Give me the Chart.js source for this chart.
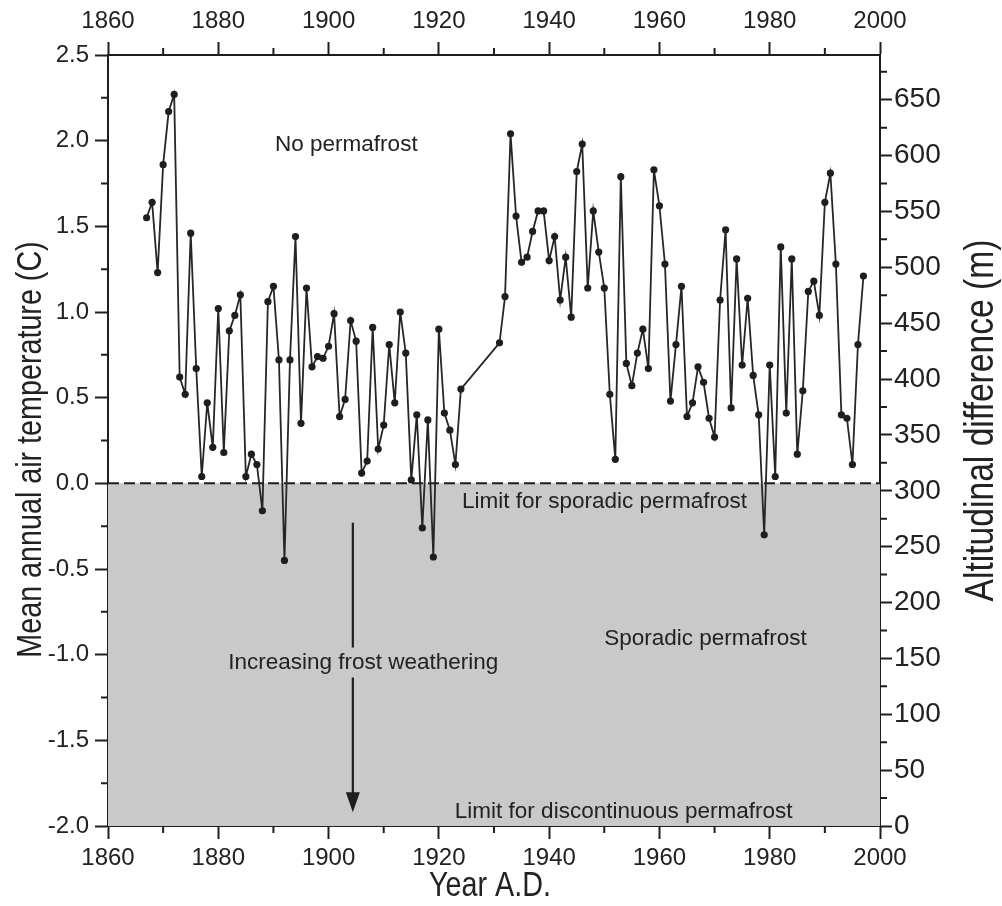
<!DOCTYPE html>
<html>
<head>
<meta charset="utf-8">
<script src="https://cdn.jsdelivr.net/npm/chart.js@4.4.1/dist/chart.umd.min.js"></script>
<style>
  html, body { margin: 0; padding: 0; background: #fff; }
  #wrap { width: 1002px; height: 906px; }
</style>
</head>
<body>
<div id="wrap"><canvas id="chart" width="1002" height="906"></canvas></div>
<script>
// years with a reading (gap 1925-1930 is just joined by the line)
const years = [
  1867, 1868, 1869, 1870, 1871, 1872, 1873, 1874, 1875, 1876,
  1877, 1878, 1879, 1880, 1881, 1882, 1883, 1884, 1885, 1886,
  1887, 1888, 1889, 1890, 1891, 1892, 1893, 1894, 1895, 1896,
  1897, 1898, 1899, 1900, 1901, 1902, 1903, 1904, 1905, 1906,
  1907, 1908, 1909, 1910, 1911, 1912, 1913, 1914, 1915, 1916,
  1917, 1918, 1919, 1920, 1921, 1922, 1923, 1924,
  1931, 1932, 1933, 1934, 1935, 1936, 1937, 1938, 1939, 1940,
  1941, 1942, 1943, 1944, 1945, 1946, 1947, 1948, 1949, 1950,
  1951, 1952, 1953, 1954, 1955, 1956, 1957, 1958, 1959, 1960,
  1961, 1962, 1963, 1964, 1965, 1966, 1967, 1968, 1969, 1970,
  1971, 1972, 1973, 1974, 1975, 1976, 1977, 1978, 1979, 1980,
  1981, 1982, 1983, 1984, 1985, 1986, 1987, 1988, 1989, 1990,
  1991, 1992, 1993, 1994, 1995, 1996, 1997
];
// mean annual air temperature (C)
const temps = [
  1.55, 1.64, 1.23, 1.86, 2.17, 2.27, 0.62, 0.52, 1.46, 0.67,
  0.04, 0.47, 0.21, 1.02, 0.18, 0.89, 0.98, 1.10, 0.04, 0.17,
  0.11, -0.16, 1.06, 1.15, 0.72, -0.45, 0.72, 1.44, 0.35, 1.14,
  0.68, 0.74, 0.73, 0.80, 0.99, 0.39, 0.49, 0.95, 0.83, 0.06,
  0.13, 0.91, 0.20, 0.34, 0.81, 0.47, 1.00, 0.76, 0.02, 0.40,
  -0.26, 0.37, -0.43, 0.90, 0.41, 0.31, 0.11, 0.55,
  0.82, 1.09, 2.04, 1.56, 1.29, 1.32, 1.47, 1.59, 1.59, 1.30,
  1.44, 1.07, 1.32, 0.97, 1.82, 1.98, 1.14, 1.59, 1.35, 1.14,
  0.52, 0.14, 1.79, 0.70, 0.57, 0.76, 0.90, 0.67, 1.83, 1.62,
  1.28, 0.48, 0.81, 1.15, 0.39, 0.47, 0.68, 0.59, 0.38, 0.27,
  1.07, 1.48, 0.44, 1.31, 0.69, 1.08, 0.63, 0.40, -0.30, 0.69,
  0.04, 1.38, 0.41, 1.31, 0.17, 0.54, 1.12, 1.18, 0.98, 1.64,
  1.81, 1.28, 0.40, 0.38, 0.11, 0.81, 1.21
];
// limit for sporadic permafrost (0 C)
const limitYears = [1860, 2000];
const limitTemps = [0, 0];

// minor tick marks
const minorYears = [1870, 1890, 1910, 1930, 1950, 1970, 1990];
const minorTemps = [-1.75, -1.25, -0.75, -0.25, 0.25, 0.75, 1.25, 1.75, 2.25];
const minorAlts = [25, 75, 125, 175, 225, 275, 325, 375, 425, 475, 525, 575, 625, 675];

const sans = '"Liberation Sans", Arial, sans-serif';
const ink = '#1e1e1e';
const shade = '#c9c9c9';

const notes = [
  { text: 'No permafrost', year: 1890.3, temp: 1.975 },
  { text: 'Limit for sporadic permafrost', year: 1924.2, temp: -0.11 },
  { text: 'Sporadic permafrost', year: 1950.0, temp: -0.91 },
  { text: 'Increasing frost weathering', year: 1881.8, temp: -1.045 },
  { text: 'Limit for discontinuous permafrost', year: 1922.9, temp: -1.915 }
];
const arrow = { year: 1904.4, from: -0.23, to: -1.92, gapAt: -1.045 };

// squeezed text, close to the narrow face of the original
function narrowText(ctx, text, x, y, size, rot) {
  ctx.save();
  ctx.translate(x, y);
  ctx.rotate(rot);
  ctx.scale(0.82, 1);
  ctx.font = size + 'px ' + sans;
  ctx.textAlign = 'center';
  ctx.textBaseline = 'middle';
  ctx.fillText(text, 0, 0);
  ctx.restore();
}

const decor = {
  id: 'decor',
  afterDatasetsDraw(chart) {
    const { ctx, chartArea: a } = chart;
    const { x, y, y2 } = chart.scales;
    ctx.save();

    // minor ticks
    ctx.strokeStyle = ink;
    ctx.lineWidth = 2;
    ctx.beginPath();
    minorYears.forEach(v => {
      const px = x.getPixelForValue(v);
      ctx.moveTo(px, a.bottom); ctx.lineTo(px, a.bottom + 7);
      ctx.moveTo(px, a.top); ctx.lineTo(px, a.top - 7);
    });
    minorTemps.forEach(v => {
      const py = y.getPixelForValue(v);
      ctx.moveTo(a.left, py); ctx.lineTo(a.left - 7, py);
    });
    minorAlts.forEach(v => {
      const py = y2.getPixelForValue(v);
      ctx.moveTo(a.right, py); ctx.lineTo(a.right + 7, py);
    });
    ctx.stroke();

    // arrow with a break round its label
    const ax = x.getPixelForValue(arrow.year);
    const yTop = y.getPixelForValue(arrow.from);
    const yTip = y.getPixelForValue(arrow.to);
    const yGap = y.getPixelForValue(arrow.gapAt);
    ctx.lineWidth = 2.2;
    ctx.beginPath();
    ctx.moveTo(ax, yTop); ctx.lineTo(ax, yGap - 15);
    ctx.moveTo(ax, yGap + 15); ctx.lineTo(ax, yTip - 16);
    ctx.stroke();
    ctx.fillStyle = ink;
    ctx.beginPath();
    ctx.moveTo(ax - 7, yTip - 20);
    ctx.lineTo(ax + 7, yTip - 20);
    ctx.lineTo(ax, yTip);
    ctx.closePath();
    ctx.fill();

    // annotations
    ctx.textAlign = 'left';
    ctx.textBaseline = 'middle';
    ctx.fillStyle = '#222';
    ctx.font = '22.5px ' + sans;
    notes.forEach(n => {
      ctx.fillText(n.text, x.getPixelForValue(n.year), y.getPixelForValue(n.temp));
    });

    // axis titles
    const midY = (a.top + a.bottom) / 2;
    narrowText(ctx, 'Mean annual air temperature (C)', 31, midY + 9, 35, -Math.PI / 2);
    narrowText(ctx, 'Altitudinal difference (m)', 982, midY - 20, 41, -Math.PI / 2);
    narrowText(ctx, 'Year A.D.', (a.left + a.right) / 2 - 4, 886, 35, 0);

    ctx.restore();
  }
};

const tickGrid = {
  display: true,
  drawOnChartArea: false,
  drawTicks: true,
  tickLength: 13,
  tickWidth: 2,
  tickColor: ink
};
const axisBorder = { display: true, color: ink, width: 2 };

new Chart(document.getElementById('chart'), {
  type: 'line',
  data: {
    datasets: [
      {
        label: 'Mean annual air temperature',
        data: years.map((yr, i) => ({ x: yr, y: temps[i] })),
        borderColor: '#262626',
        borderWidth: 1.8,
        pointRadius: 3.6,
        pointBackgroundColor: '#1e1e1e',
        pointBorderWidth: 0,
        tension: 0,
        fill: false,
        order: 1
      },
      {
        label: 'Limit for sporadic permafrost',
        data: limitYears.map((yr, i) => ({ x: yr, y: limitTemps[i] })),
        borderColor: ink,
        borderWidth: 2,
        borderDash: [11, 5],
        backgroundColor: shade,
        fill: 'start',
        pointRadius: 0,
        order: 2
      }
    ]
  },
  options: {
    responsive: false,
    animation: false,
    layout: { padding: 0 },
    plugins: { legend: { display: false }, tooltip: { enabled: false } },
    scales: {
      x: {
        type: 'linear', position: 'bottom', min: 1860, max: 2000,
        grid: tickGrid, border: axisBorder,
        ticks: { stepSize: 20, padding: 5, color: '#222', font: { family: sans, size: 24 }, callback: v => String(v) },
        afterFit: s => { s.height = 80; }
      },
      x2: {
        type: 'linear', position: 'top', min: 1860, max: 2000,
        grid: tickGrid, border: axisBorder,
        ticks: { stepSize: 20, padding: 6, color: '#222', font: { family: sans, size: 24 }, callback: v => String(v) },
        afterFit: s => { s.height = 55; }
      },
      y: {
        type: 'linear', position: 'left', min: -2, max: 2.5,
        grid: tickGrid, border: axisBorder,
        ticks: { stepSize: 0.5, padding: 6, color: '#222', font: { family: sans, size: 24 }, callback: v => v.toFixed(1) },
        afterFit: s => { s.width = 108; }
      },
      y2: {
        type: 'linear', position: 'right', min: 0, max: 690,
        grid: Object.assign({}, tickGrid, { tickLength: 12 }), border: axisBorder,
        ticks: { stepSize: 50, includeBounds: false, padding: 2, color: '#222', font: { family: sans, size: 28 }, callback: v => String(v) },
        afterFit: s => { s.width = 122; }
      }
    }
  },
  plugins: [decor]
});
</script>
</body>
</html>
